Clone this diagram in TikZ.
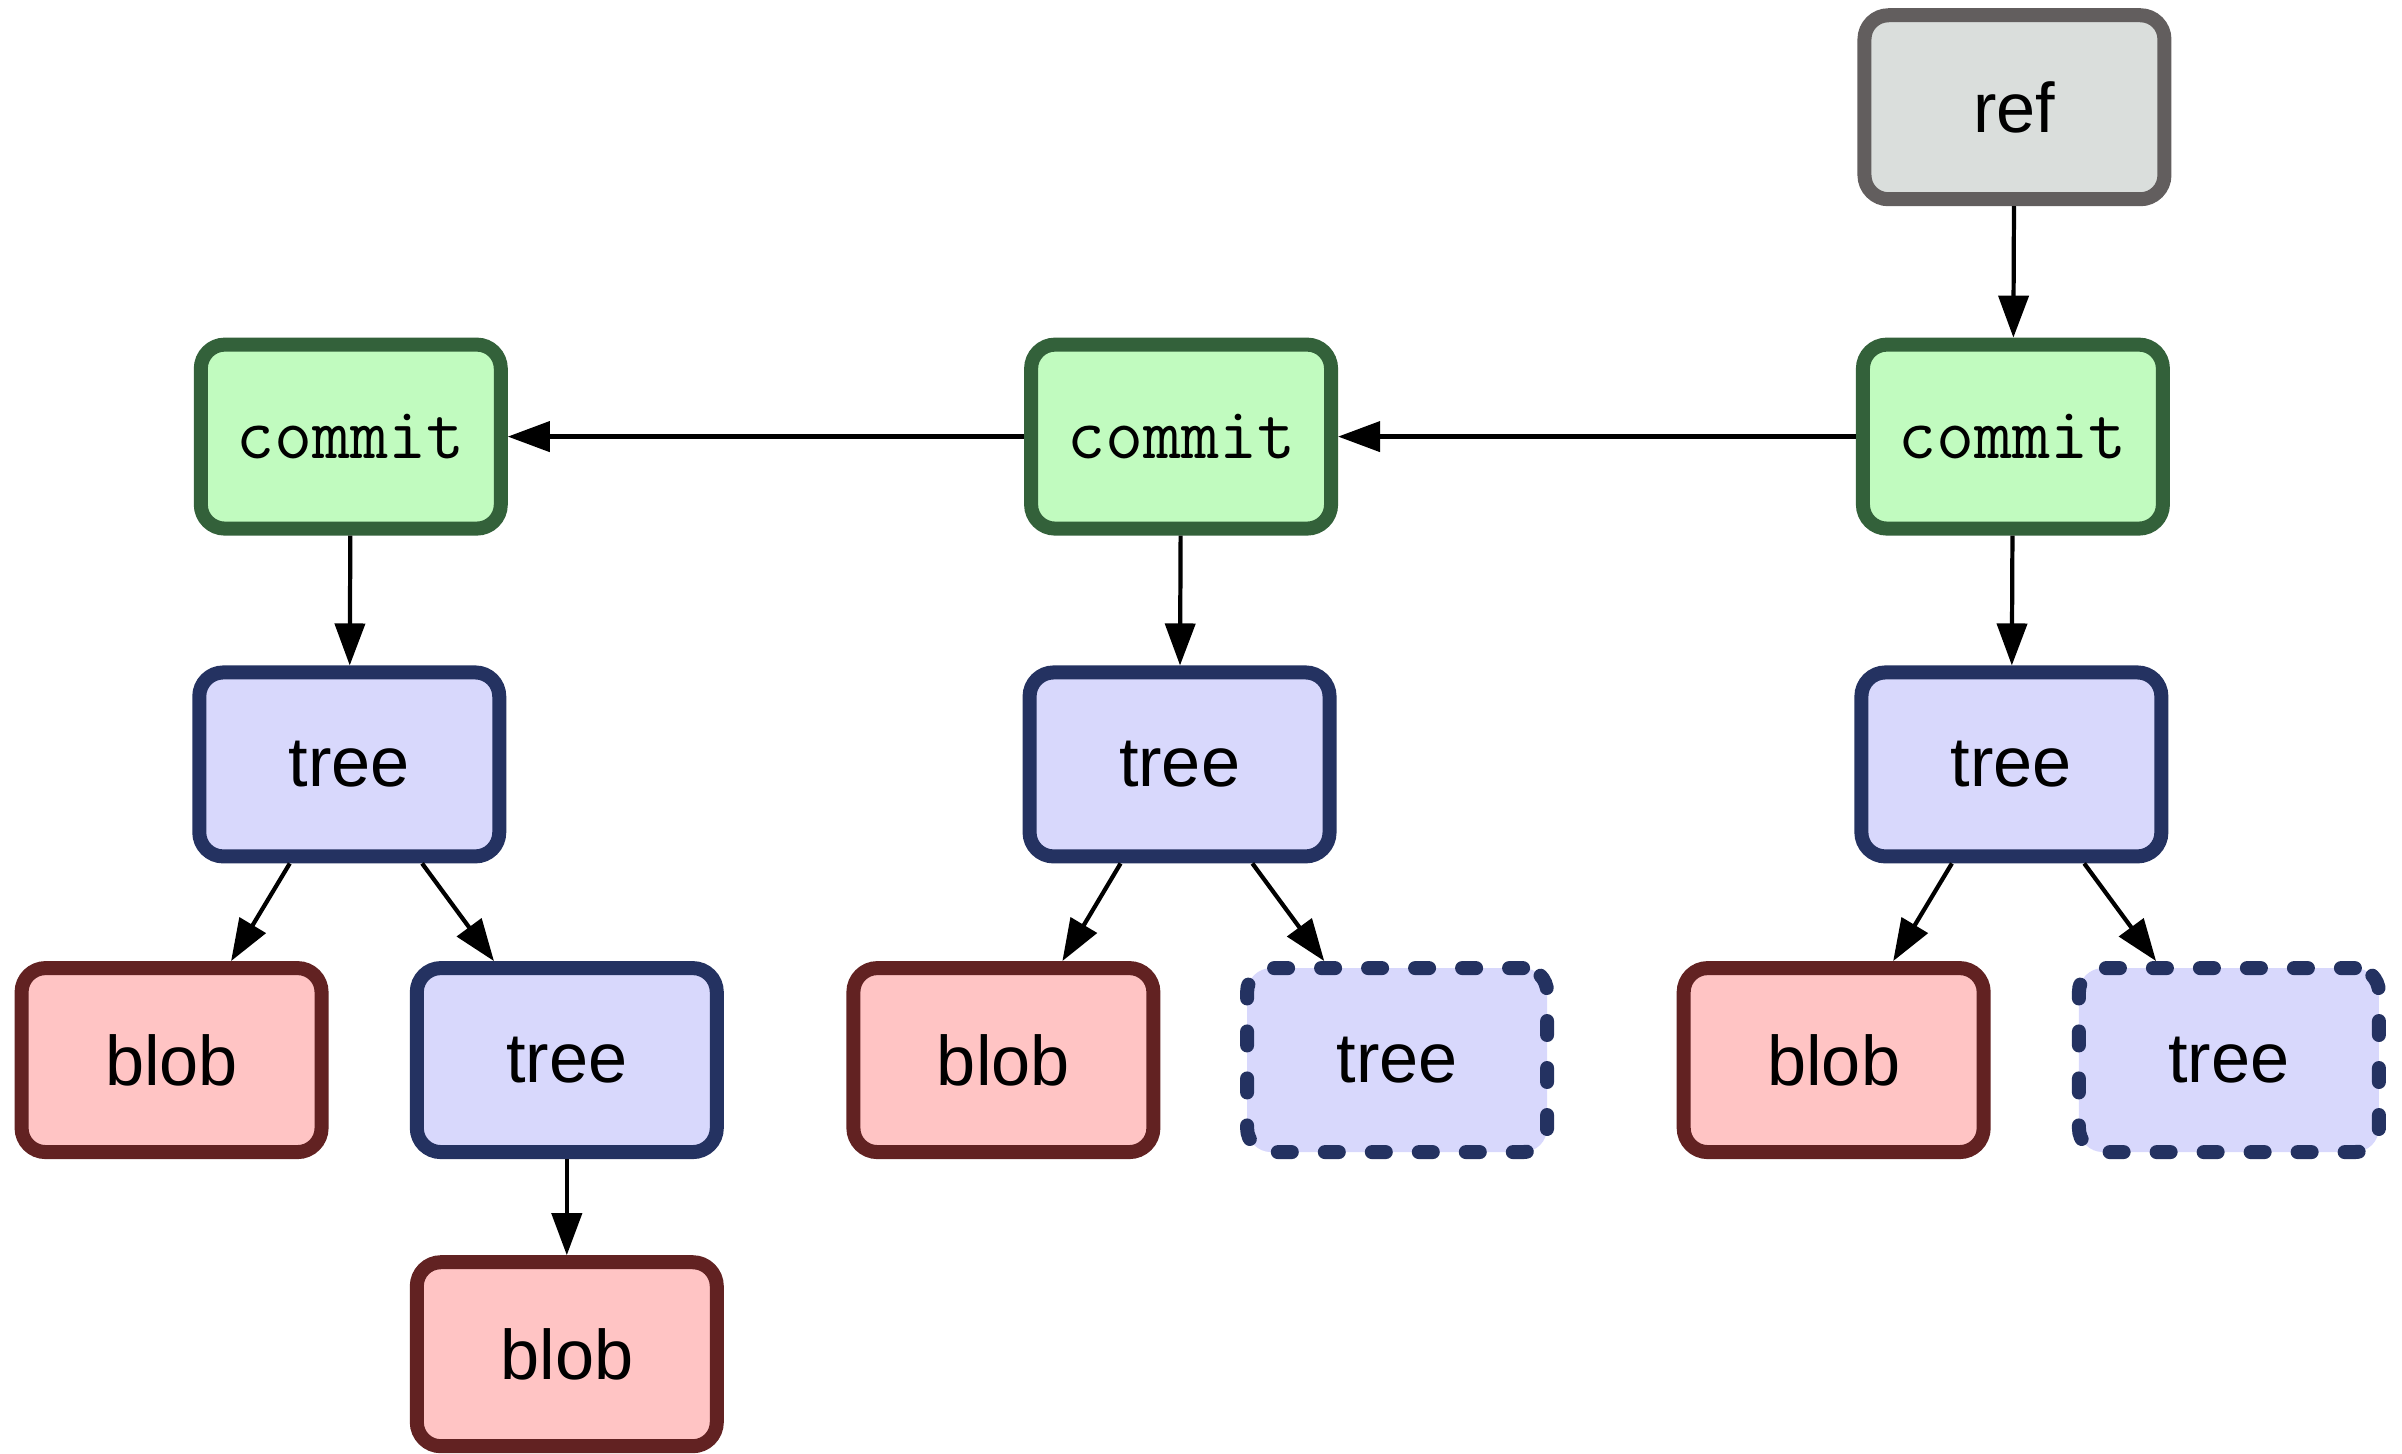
\documentclass[tikz,border=0pt]{standalone}
\usepackage{fontspec}
\setmainfont{Liberation Sans}
\usetikzlibrary{arrows.meta}
\definecolor{refFill}{HTML}{DADEDC}
\definecolor{refLine}{HTML}{625E5E}
\definecolor{commitFill}{HTML}{C1FBBF}
\definecolor{commitLine}{HTML}{33613A}
\definecolor{treeFill}{HTML}{D8D8FC}
\definecolor{treeLine}{HTML}{243261}
\definecolor{blobFill}{HTML}{FFC4C4}
\definecolor{blobLine}{HTML}{622222}
\tikzset{
  obj/.style={draw, rectangle, rounded corners=0.24cm, line width=0.14cm,
    minimum width=3.0cm, minimum height=1.84cm, inner sep=0pt,
    font=\fontsize{20}{24}\selectfont},
  refbox/.style={obj, draw=refLine, fill=refFill},
  commitbox/.style={obj, draw=commitLine, fill=commitFill,
    font=\fontsize{21}{25}\selectfont\ttfamily},
  treebox/.style={obj, draw=treeLine, fill=treeFill},
  blobbox/.style={obj, draw=blobLine, fill=blobFill},
  subtree/.style={treebox, line cap=round, dash pattern=on 0.14cm off 0.33cm},
  link/.style={-{Triangle[length=0.42cm,width=0.3cm]}, line width=1.2pt}
}
\begin{document}
\begin{tikzpicture}[x=0.01532cm,y=-0.01532cm]
\useasboundingbox (0,0) rectangle (1568,949);

\node[refbox] (ref) at (1315,70) {ref};

\node[commitbox] (cA) at (229,285) {commit};
\node[commitbox] (cB) at (771,285) {commit};
\node[commitbox] (cC) at (1314,285) {commit};

\node[treebox] (tA) at (228,499) {tree};
\node[treebox] (tB) at (770,499) {tree};
\node[treebox] (tC) at (1313,499) {tree};

\node[blobbox] (bA) at (112,692) {blob};
\node[treebox] (sA) at (370,692) {tree};
\node[blobbox] (bB) at (655,692) {blob};
\node[subtree] (sB) at (912,692) {tree};
\node[blobbox] (bC) at (1197,692) {blob};
\node[subtree] (sC) at (1455,692) {tree};

\node[blobbox] (bD) at (370,884) {blob};

\draw[link] (ref) -- (cC);
\draw[link] (cC) -- (cB);
\draw[link] (cB) -- (cA);

\draw[link] (cA) -- (tA);
\draw[link] (cB) -- (tB);
\draw[link] (cC) -- (tC);

\draw[link] (tA) -- (bA);
\draw[link] (tA) -- (sA);
\draw[link] (tB) -- (bB);
\draw[link] (tB) -- (sB);
\draw[link] (tC) -- (bC);
\draw[link] (tC) -- (sC);

\draw[link] (sA) -- (bD);
\end{tikzpicture}
\end{document}
